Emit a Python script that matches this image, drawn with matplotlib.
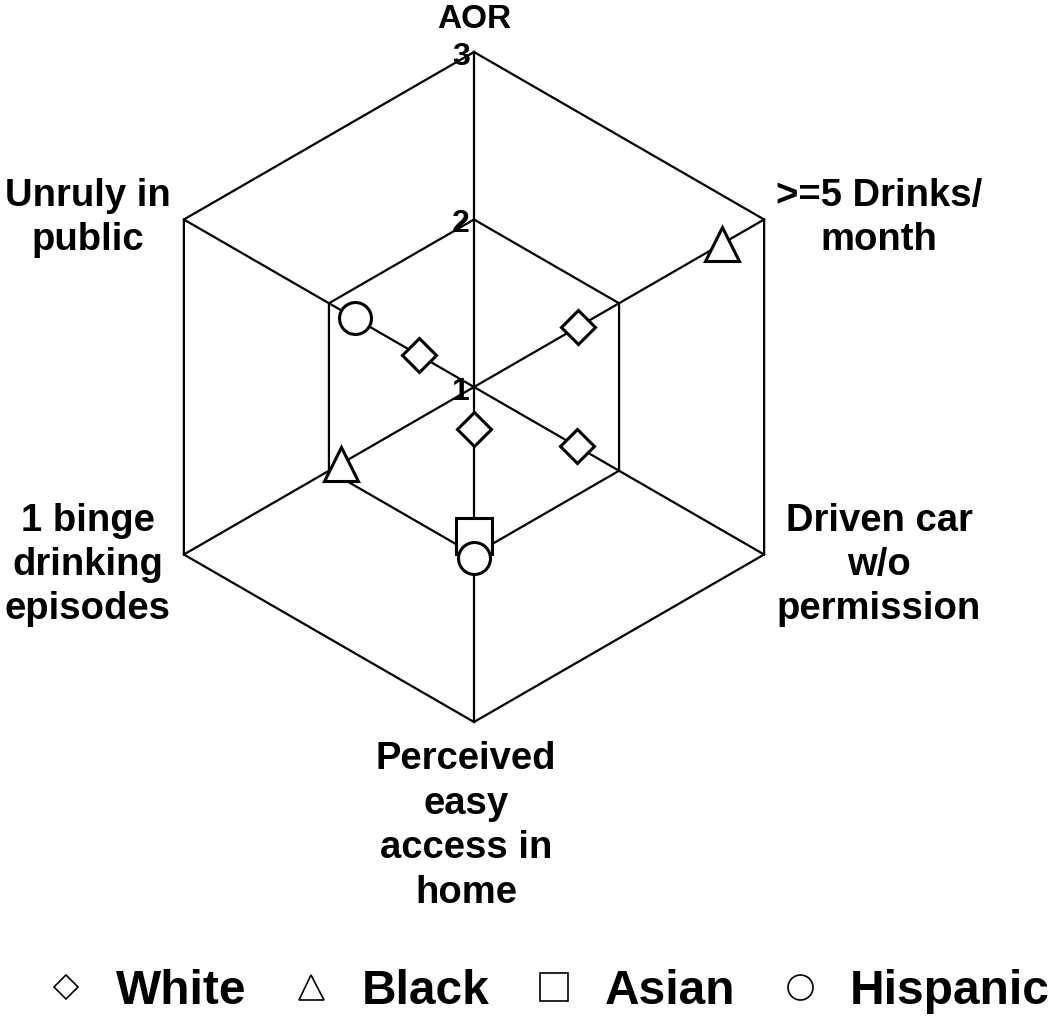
import numpy as np
import matplotlib
matplotlib.use("Agg")
import matplotlib.pyplot as plt
from matplotlib.lines import Line2D

plt.rcParams['font.family'] = ['Liberation Sans', 'DejaVu Sans']
plt.rcParams['font.weight'] = 'bold'

# ---------------- data ----------------
axis_title = "AOR"
categories = ["", ">=5 Drinks/\nmonth", "Driven car\nw/o\npermission",
              "Perceived\neasy\naccess in\nhome", "1 binge\ndrinking\nepisodes",
              "Unruly in\npublic"]
nan = np.nan
white = [nan, 1.72, 1.71, 1.25, nan, 1.38]
black = [nan, 2.71, nan, nan, 1.92, nan]
asian = [nan, nan, nan, 1.89, nan, nan]
hispanic = [nan, nan, nan, 2.02, nan, 1.82]
ring_values = [2, 3]
tick_values = [1, 2, 3]
tick_labels = ["1", "2", "3"]
series_names = ["White", "Black", "Asian", "Hispanic"]

# ---------------- figure ----------------
W, H = 1050, 1019
fig = plt.figure(figsize=(W / 100, H / 100), dpi=100)

def fx(x):
    return x / W

def fy(y):
    return 1 - y / H

cx, cy, R = 474, 387, 335
ax = fig.add_axes([fx(cx - R), fy(cy + R), 2 * R / W, 2 * R / H], projection='polar')
ax.set_theta_offset(np.pi / 2)
ax.set_theta_direction(-1)
ax.set_ylim(1, 3)
ax.grid(False)
ax.set_xticks([])
ax.set_yticks([])
ax.spines['polar'].set_visible(False)
ax.patch.set_visible(False)

n = len(categories)
theta = np.arange(n) * 2 * np.pi / n

lw = 1.6
# hexagonal rings
for rv in ring_values:
    t = np.append(theta, theta[0])
    ax.plot(t, [rv] * (n + 1), color='black', lw=lw, clip_on=False, zorder=1)
# spokes
for t in theta:
    ax.plot([t, t], [1, 3], color='black', lw=lw, clip_on=False, zorder=1)

# radial tick labels on the top spoke
for v, lab in zip(tick_values, tick_labels):
    ax.annotate(lab, xy=(0, v), xytext=(-3, -3.5), textcoords='offset points',
                ha='right', va='center', fontsize=23, fontweight='bold',
                annotation_clip=False)

# data series
styles = [
    (white, 'D', 17.5),
    (black, '^', 25),
    (asian, 's', 26),
    (hispanic, 'o', 23),
]
for vals, mk, ms in styles:
    v = np.array(vals, dtype=float)
    m = ~np.isnan(v)
    ax.plot(theta[m], v[m], ls='none', marker=mk, ms=ms, mfc='white',
            mec='black', mew=2.2, clip_on=False, zorder=3)

# axis title and category labels
fig.text(fx(cx), fy(28), axis_title, ha='center', va='baseline',
         fontsize=24, fontweight='bold')
label_pos = [None, (879, 218), (879, 565), (466, 826), (88, 565), (88, 218)]
for lab, pos in zip(categories, label_pos):
    if pos is None:
        continue
    fig.text(fx(pos[0]), fy(pos[1]), lab, ha='center', va='center',
             multialignment='center', fontsize=27.5, fontweight='bold',
             linespacing=1.3)

# legend
leg_markers = [('D', 12.5), ('^', 18), ('s', 19.5), ('o', 18)]
handles = [Line2D([], [], ls='none', marker=mk, ms=ms, mfc='white', mec='black',
                  mew=1.2) for mk, ms in leg_markers]
fig.legend(handles, series_names, loc='center', bbox_to_anchor=(fx(546), fy(991)),
           ncol=4, frameon=False, prop={'size': 34.5, 'weight': 'bold'},
           handlelength=1.0, handletextpad=0.55, columnspacing=0.85,
           borderpad=0, borderaxespad=0)

fig.savefig('out.png', dpi=100)
